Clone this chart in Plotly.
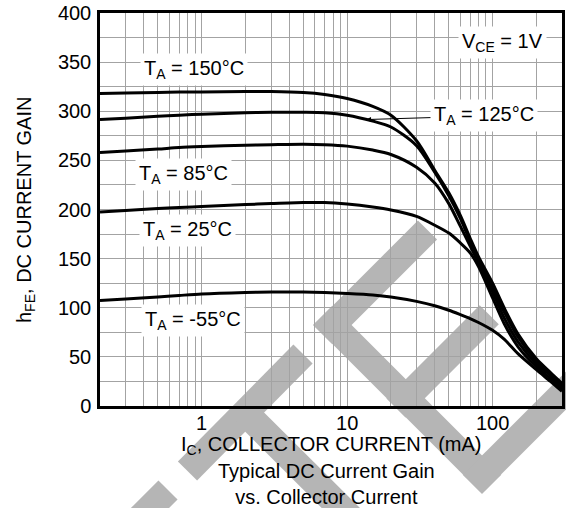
import math
import plotly.graph_objects as go

# ---------------- data ----------------
ic_ma = [0.2, 0.3, 0.5, 0.7, 1, 2, 3, 5, 7, 10, 15, 20, 30, 40, 50, 60, 70, 80,
         100, 120, 150, 200, 250, 300]
hfe_150 = [318, 318.5, 319, 319.5, 319.5, 320, 320, 319, 317, 313, 305, 296, 270, 240,
           217, 194, 171, 152, 125, 100, 73, 48, 34, 23]
hfe_125 = [291.5, 293, 295, 296, 297, 298.5, 299, 299, 298.5, 296, 290, 284, 265, 238,
           214, 191, 168, 150, 121, 96, 70, 46, 33, 21]
hfe_85 = [258, 259.5, 261.5, 263, 264, 265.5, 266, 266.5, 266, 264.5, 260.5, 256, 243, 227,
          206, 183, 163, 146, 116, 90, 65, 43, 31, 19]
hfe_25 = [197.5, 199, 201, 202, 203, 205, 206, 207, 207, 205.5, 202.5, 199.5, 193, 184,
          176, 166, 156, 142, 110, 84, 60, 40, 28, 17]
hfe_m55 = [107.5, 109, 111, 112.5, 114, 115.5, 116, 116, 115.5, 114.5, 113, 111, 106.5, 102,
           97.5, 93, 89, 85, 77, 68, 53, 37, 25, 15]

series = [hfe_150, hfe_125, hfe_85, hfe_25, hfe_m55]
temp_labels = ["T<sub>A</sub> = 150°C", "T<sub>A</sub> = 125°C", "T<sub>A</sub> = 85°C",
               "T<sub>A</sub> = 25°C", "T<sub>A</sub> = -55°C"]
vce_label = "V<sub>CE</sub> = 1V"

x_tick_labels = {1: "1", 10: "10", 100: "100"}
y_tick_labels = [0, 50, 100, 150, 200, 250, 300, 350, 400]
y_grid_step = 25
x_range_ma = [0.2, 300]
y_range = [0, 400]

x_title = "I<sub>C</sub>, COLLECTOR CURRENT (mA)"
y_title = "h<sub>FE</sub>, DC CURRENT GAIN"
caption = "Typical DC Current Gain<br>vs. Collector Current"

# ---------------- layout geometry ----------------
W, H = 566, 508
ML, MR, MT, MB = 100, 4, 13, 102
PW = W - ML - MR
PH = H - MT - MB
FONT = "Liberation Sans, Arial, sans-serif"
GRID = "#a3a3a3"


def px(x):
    return (x - ML) / PW


def py(y):
    return (H - MB - y) / PH


fig = go.Figure()
for vals in series:
    fig.add_trace(go.Scatter(x=ic_ma, y=vals, mode="lines",
                             line=dict(color="black", width=3, shape="spline", smoothing=0.8),
                             hoverinfo="skip", showlegend=False))

# grid positions (log decades) and labels
x_grid = []
for e in (-1, 0, 1, 2):
    for m in range(1, 10):
        v = round(m * 10 ** e, 6)
        if x_range_ma[0] <= v <= x_range_ma[1]:
            x_grid.append(v)
x_text = [x_tick_labels.get(v, "") for v in x_grid]
y_grid = list(range(y_range[0], y_range[1] + 1, y_grid_step))
y_text = [str(v) if v in y_tick_labels else "" for v in y_grid]

fig.update_xaxes(type="log", range=[math.log10(x_range_ma[0]), math.log10(x_range_ma[1])],
                 tickmode="array", tickvals=x_grid, ticktext=x_text, automargin=False,
                 showgrid=True, gridcolor=GRID, gridwidth=1,
                 showline=True, linecolor="black", linewidth=2.5, mirror=True,
                 ticks="", ticklabelstandoff=-3, zeroline=False,
                 tickfont=dict(family=FONT, size=20, color="black"))
fig.update_yaxes(range=y_range, tickmode="array", tickvals=y_grid, ticktext=y_text,
                 automargin=False,
                 showgrid=True, gridcolor=GRID, gridwidth=1,
                 showline=True, linecolor="black", linewidth=2.5, mirror=True,
                 ticks="", ticklabelstandoff=2, zeroline=False,
                 tickfont=dict(family=FONT, size=20, color="black"))

# ---------------- watermark (decorative, pixel geometry) ----------------
WM_W = 27
wm_bars = [
    ((168, 490), (110, 548)),
    ((187.5, 471), (303, 354)),
    ((245, 412.5), (380, 547)),
    ((322.75, 315.25), (491.75, 484.25)),
    ((322.75, 334.75), (427.5, 230)),
    ((396, 408), (489.25, 314.75)),
    ((472.25, 484.25), (608.25, 348.25)),
]
shapes = []
for (x1, y1), (x2, y2) in wm_bars:
    dx, dy = x2 - x1, y2 - y1
    n = math.hypot(dx, dy)
    nx, ny = -dy / n * WM_W / 2, dx / n * WM_W / 2
    pts = [(x1 + nx, y1 + ny), (x2 + nx, y2 + ny), (x2 - nx, y2 - ny), (x1 - nx, y1 - ny)]
    path = "M " + " L ".join(f"{px(a):.5f},{py(b):.5f}" for a, b in pts) + " Z"
    shapes.append(dict(type="path", xref="paper", yref="paper", path=path,
                       fillcolor="#b5b5b5", line=dict(width=0), layer="below"))

# ---------------- annotations ----------------
ann = []
label_pos = [(193.5, 69), None, (183.5, 174), (187, 231), (193, 320)]
for txt, pos in zip(temp_labels, label_pos):
    if pos is None:
        continue
    ann.append(dict(text=txt, x=px(pos[0]), y=py(pos[1]), xref="paper", yref="paper",
                    xanchor="center", yanchor="middle", showarrow=False,
                    bgcolor="white", borderpad=3,
                    font=dict(family=FONT, size=20, color="black")))

# 125 degC label with leader arrow to its curve
tip_x = 13.5
i0 = 9
lx0, lx1 = math.log10(ic_ma[i0]), math.log10(ic_ma[i0 + 1])
t = (math.log10(tip_x) - lx0) / (lx1 - lx0)
tip_y = hfe_125[i0] + t * (hfe_125[i0 + 1] - hfe_125[i0])
tip_px = ML + (math.log10(tip_x) - math.log10(x_range_ma[0])) / (
    math.log10(x_range_ma[1]) - math.log10(x_range_ma[0])) * PW
tip_py = H - MB - tip_y / y_range[1] * PH
ann.append(dict(text=temp_labels[1], x=math.log10(tip_x), y=tip_y, xref="x", yref="y",
                ax=484 - tip_px, ay=116 - tip_py, showarrow=True,
                arrowhead=2, arrowsize=1, arrowwidth=1, arrowcolor="black",
                bgcolor="white", borderpad=3,
                font=dict(family=FONT, size=20, color="black")))

ann.append(dict(text=vce_label, x=px(502.5), y=py(42), xref="paper", yref="paper",
                xanchor="center", yanchor="middle", showarrow=False,
                bgcolor="white", borderpad=3,
                font=dict(family=FONT, size=20, color="black")))

ann.append(dict(text=x_title, x=px(331), y=py(445), xref="paper", yref="paper",
                xanchor="center", yanchor="middle", showarrow=False,
                font=dict(family=FONT, size=20, color="black")))
ann.append(dict(text=caption, x=px(326), y=py(458), xref="paper", yref="paper",
                xanchor="center", yanchor="top", showarrow=False,
                font=dict(family=FONT, size=20, color="black")))
ann.append(dict(text=y_title, x=px(25), y=py(210), xref="paper", yref="paper",
                xanchor="center", yanchor="middle", showarrow=False, textangle=-90,
                font=dict(family=FONT, size=20, color="black")))

fig.update_layout(template="none", width=W, height=H,
                  margin=dict(l=ML, r=MR, t=MT, b=MB, autoexpand=False),
                  paper_bgcolor="white", plot_bgcolor="white",
                  shapes=shapes, annotations=ann, showlegend=False,
                  font=dict(family=FONT, color="black"))

fig.write_html("out.html", config={"displayModeBar": False},
               post_script="document.body.style.margin='0px';document.body.style.overflow='hidden';")
